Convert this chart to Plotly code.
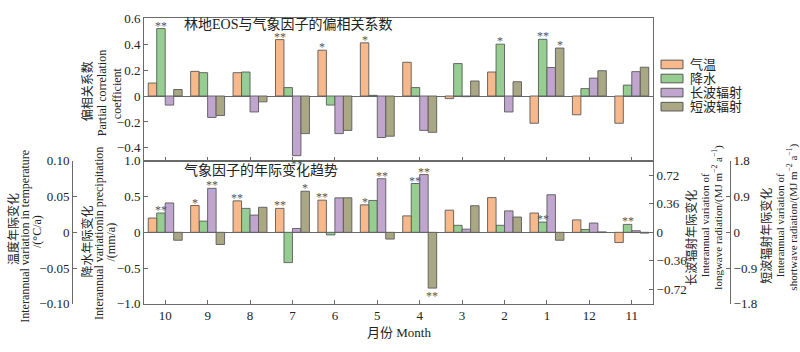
import plotly.graph_objects as go

# ---------------- data ----------------
months = ["10", "9", "8", "7", "6", "5", "4", "3", "2", "1", "12", "11"]
series_names = ["气温", "降水", "长波辐射", "短波辐射"]

# partial correlation coefficients (top panel)
pc_temp = [0.10, 0.19, 0.18, 0.435, 0.353, 0.41, 0.26, -0.02, 0.185, -0.21, -0.145, -0.21]
pc_prec = [0.52, 0.18, 0.185, 0.065, -0.07, 0.005, 0.065, 0.25, 0.40, 0.437, 0.057, 0.084]
pc_lw = [-0.07, -0.165, -0.123, -0.46, -0.29, -0.32, -0.265, -0.005, -0.123, 0.22, 0.138, 0.188]
pc_sw = [0.05, -0.15, -0.045, -0.29, -0.265, -0.31, -0.28, 0.116, 0.11, 0.37, 0.195, 0.222]

pc_temp_sig = ["", "", "", "**", "*", "*", "", "", "", "", "", ""]
pc_prec_sig = ["**", "", "", "", "", "", "", "", "*", "**", "", ""]
pc_lw_sig = ["", "", "", "**", "", "", "", "", "", "", "", ""]
pc_sw_sig = ["", "", "", "", "", "", "", "", "", "*", "", ""]

# interannual trends (bottom panel)
tr_temp = [0.020, 0.0375, 0.044, 0.0335, 0.045, 0.0384, 0.023, 0.031, 0.0486, 0.027, 0.0174, -0.0143]
tr_prec = [0.27, 0.157, 0.335, -0.424, -0.036, 0.446, 0.683, 0.098, 0.098, 0.143, 0.04, 0.111]
tr_lw = [0.37, 0.554, 0.217, 0.048, 0.434, 0.675, 0.727, 0.04, 0.27, 0.473, 0.117, 0.02]
tr_sw = [-0.20, -0.306, 0.63, 1.035, 0.87, -0.17, -1.405, 0.67, 0.385, -0.20, 0.01, -0.02]

tr_temp_sig = ["", "*", "**", "**", "**", "*", "", "", "", "", "", ""]
tr_prec_sig = ["**", "", "", "", "", "", "**", "", "", "**", "", "**"]
tr_lw_sig = ["", "**", "", "", "", "**", "**", "", "", "", "", ""]
tr_sw_sig = ["", "", "", "*", "", "", "**", "", "", "", "", ""]

# tick labels
top_ticks = [-0.4, -0.2, 0, 0.2, 0.4, 0.6]
top_ticktext = ["−0.4", "−0.2", "0", "0.2", "0.4", "0.6"]
prec_ticks = [-1.0, -0.5, 0, 0.5, 1.0]
prec_ticktext = ["−1.0", "−0.5", "0", "0.5", "1.0"]
temp_ticks = [-0.10, -0.05, 0, 0.05, 0.10]
temp_ticktext = ["−0.10", "−0.05", "0", "0.05", "0.10"]
lw_ticks = [-0.72, -0.36, 0, 0.36, 0.72]
lw_ticktext = ["−0.72", "−0.36", "0", "0.36", "0.72"]
sw_ticks = [-1.8, -0.9, 0, 0.9, 1.8]
sw_ticktext = ["−1.8", "−0.9", "0", "0.9", "1.8"]

# ---------------- style ----------------
FONT = "Liberation Serif, 'Noto Sans CJK SC', serif"
colors = ["#F7B98C", "#96CE91", "#C0A6CE", "#AAA784"]
offsets = [-0.4, -0.2, 0.0, 0.2]
BAR_W = 0.2
LINE = "#6a6a6a"
TXT = "#222222"
STAR = "#555555"
W, H = 800, 352

X0, X1 = 144 / W, 653 / W
YB0 = (H - 310) / H
YMID = (H - 160.7) / H
YT1 = (H - 11.7) / H
CAT_PX = (653 - 144) / len(months)


def px_x(p):
    return p / W


def px_y(p):
    return (H - p) / H


fig = go.Figure()

top_vals = [pc_temp, pc_prec, pc_lw, pc_sw]
top_sigs = [pc_temp_sig, pc_prec_sig, pc_lw_sig, pc_sw_sig]
bot_vals = [tr_temp, tr_prec, tr_lw, tr_sw]
bot_sigs = [tr_temp_sig, tr_prec_sig, tr_lw_sig, tr_sw_sig]
bot_axes = ["y2", "y", "y3", "y4"]

for i in range(4):
    fig.add_trace(go.Bar(
        x=months, y=top_vals[i], name=series_names[i],
        xaxis="x2", yaxis="y5",
        width=BAR_W, offset=offsets[i],
        marker=dict(color=colors[i], line=dict(color="#5a5a5a", width=0.9)),
        showlegend=False, hoverinfo="skip",
    ))

for i in range(4):
    fig.add_trace(go.Bar(
        x=months, y=bot_vals[i], name=series_names[i],
        xaxis="x", yaxis=bot_axes[i],
        width=BAR_W, offset=offsets[i],
        marker=dict(color=colors[i], line=dict(color="#5a5a5a", width=0.9)),
        showlegend=False, hoverinfo="skip",
    ))

tickfont = dict(family=FONT, size=13, color=TXT)
common_y = dict(showline=True, linecolor=LINE, linewidth=1, ticks="inside",
                ticklen=4, tickcolor=LINE, showgrid=False, tickfont=tickfont)

fig.update_layout(
    width=W, height=H,
    margin=dict(l=0, r=0, t=0, b=0),
    paper_bgcolor="white", plot_bgcolor="white",
    barmode="overlay",
    showlegend=False,
    font=dict(family=FONT, color=TXT),
    xaxis=dict(domain=[X0, X1], anchor="y", type="category",
               categoryorder="array", categoryarray=months,
               range=[-0.5, 11.5], showline=True, mirror=True,
               linecolor=LINE, linewidth=1, ticks="inside", ticklen=4,
               tickcolor=LINE, tickfont=tickfont, showgrid=False),
    xaxis2=dict(domain=[X0, X1], anchor="y5", type="category",
                categoryorder="array", categoryarray=months,
                range=[-0.5, 11.5], showline=True, mirror=True,
                linecolor=LINE, linewidth=1, ticks="inside", ticklen=4,
                tickcolor=LINE, showticklabels=False, showgrid=False),
    yaxis=dict(domain=[YB0, YMID], anchor="x", range=[-1, 1],
               tickvals=prec_ticks, ticktext=prec_ticktext, mirror=True,
               zeroline=True, zerolinecolor=LINE, zerolinewidth=1, **common_y),
    yaxis2=dict(overlaying="y", anchor="free", position=px_x(72), side="left",
                range=[-0.1, 0.1], tickvals=temp_ticks, ticktext=temp_ticktext,
                zeroline=False, **common_y),
    yaxis3=dict(overlaying="y", anchor="x", side="right", range=[-0.9, 0.9],
                tickvals=lw_ticks, ticktext=lw_ticktext, zeroline=False, **common_y),
    yaxis4=dict(overlaying="y", anchor="free", position=px_x(730), side="right",
                range=[-1.8, 1.8], tickvals=sw_ticks, ticktext=sw_ticktext,
                zeroline=False, **common_y),
    yaxis5=dict(domain=[YMID, YT1], anchor="x2", range=[-0.5, 0.6],
                tickvals=top_ticks, ticktext=top_ticktext, mirror=True,
                zeroline=True, zerolinecolor=LINE, zerolinewidth=1, **common_y),
)

ann = []


# significance marks, placed at the end of each bar (x = category index)
def add_sig(vals, sigs, xref, yref, k):
    for j, s in enumerate(sigs):
        if not s:
            continue
        v = vals[j]
        pos = v >= 0
        ann.append(dict(text=s, x=j, y=v, xref=xref, yref=yref,
                        xshift=(offsets[k] + BAR_W / 2) * CAT_PX,
                        yshift=-6 if pos else 1,
                        yanchor="bottom" if pos else "top", xanchor="center",
                        showarrow=False,
                        font=dict(family=FONT, size=12, color=STAR)))


for k in range(4):
    add_sig(top_vals[k], top_sigs[k], "x2", "y5", k)
    add_sig(bot_vals[k], bot_sigs[k], "x", bot_axes[k], k)


def vtitle(text, x, y, size):
    ann.append(dict(text=text, x=px_x(x), y=px_y(y), xref="paper", yref="paper",
                    textangle=-90, showarrow=False, xanchor="center", yanchor="middle",
                    font=dict(family=FONT, size=size, color=TXT)))


# panel titles
ann.append(dict(text="林地EOS与气象因子的偏相关系数", x=px_x(182), y=px_y(18),
                xref="paper", yref="paper", showarrow=False, xanchor="left",
                yanchor="middle", font=dict(family=FONT, size=14, color=TXT)))
ann.append(dict(text="气象因子的年际变化趋势", x=px_x(182), y=px_y(171),
                xref="paper", yref="paper", showarrow=False, xanchor="left",
                yanchor="middle", font=dict(family=FONT, size=14, color=TXT)))
ann.append(dict(text="月份 Month", x=px_x(399), y=px_y(340),
                xref="paper", yref="paper", showarrow=False, xanchor="center",
                yanchor="middle", font=dict(family=FONT, size=13, color=TXT)))

# axis titles
vtitle("偏相关系数", 87, 88, 12)
vtitle("Partial correlation", 102, 90, 12)
vtitle("coefficient", 117, 90, 12)

vtitle("温度年际变化", 13, 232, 12)
vtitle("Interannual variation in temperature", 25, 240, 12)
vtitle("/(°C/a)", 37, 235, 12)

vtitle("降水年际变化", 88, 245, 12)
vtitle("Interannual variationin precipitation", 99, 237, 12)
vtitle("/(mm/a)", 111, 246, 12)

vtitle("长波辐射年际变化", 692, 241, 12)
vtitle("Interannual variation of", 705, 228, 11)
vtitle("longwave radiation/(MJ m<sup>−2</sup> a<sup>−1</sup>)", 718, 220, 11)

vtitle("短波辐射年际变化", 767, 239, 12)
vtitle("Interannual variation of", 780, 228, 11)
vtitle("shortwave radiation/(MJ m<sup>−2</sup> a<sup>−1</sup>)", 793, 220, 11)

# custom legend
shapes = []
for i, nm in enumerate(series_names):
    yc = 60 + i * 14.7
    shapes.append(dict(type="rect", xref="paper", yref="paper",
                       x0=px_x(661), x1=px_x(683), y0=px_y(yc - 4.5), y1=px_y(yc + 4.5),
                       fillcolor=colors[i], line=dict(color="#5a5a5a", width=1)))
    ann.append(dict(text=nm, x=px_x(688), y=px_y(yc), xref="paper", yref="paper",
                    showarrow=False, xanchor="left", yanchor="middle",
                    font=dict(family=FONT, size=13, color=TXT)))

fig.update_layout(annotations=ann, shapes=shapes)

fig.write_html("out.html")
